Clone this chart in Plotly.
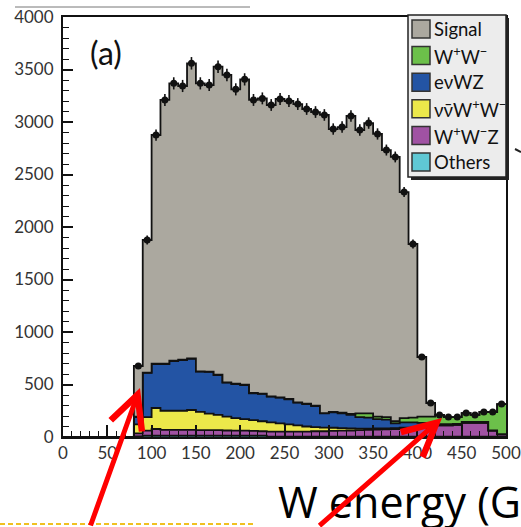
import plotly.graph_objects as go

# ---- data: 10 GeV bins from 0 to 500 (values per bin, bins 0..490 lower edges) ----
bin_edges = list(range(0, 510, 10))
zeros8 = [0] * 8  # bins 0-80 are empty

signal = zeros8 + [483, 1263, 2178, 2512, 2641, 2607, 2811, 2743, 2729, 2934,
                   2928, 2803, 2908, 2791, 2812, 2775, 2841, 2838, 2841, 2807,
                   2797, 2839, 2693, 2719, 2837, 2699, 2765, 2691, 2543, 2517,
                   2153, 1653, 567, 129, 0, 0, 0, 0, 0, 0, 0, 0]
ww = zeros8 + [3, 3, 3, 3, 3, 3, 3, 3, 3, 3,
               3, 3, 3, 3, 3, 3, 3, 3, 3, 3,
               3, 3, 5, 8, 10, 35, 40, 25, 25, 20,
               40, 45, 60, 70, 88, 68, 65, 85, 67, 95, 175, 287]
enuwz = zeros8 + [70, 420, 419, 445, 474, 483, 488, 382, 398, 380,
                  322, 325, 325, 256, 260, 244, 245, 239, 217, 214,
                  200, 135, 147, 140, 128, 110, 105, 88, 83, 45,
                  52, 50, 45, 35, 12, 12, 10, 8, 8, 8, 3, 2]
nnww = zeros8 + [85, 130, 200, 183, 183, 183, 190, 175, 157, 145,
                 133, 120, 110, 102, 95, 88, 78, 68, 58, 48,
                 40, 35, 30, 25, 20, 15, 13, 12, 10, 10,
                 8, 7, 5, 4, 0, 0, 0, 0, 0, 0, 0, 0]
wwz = zeros8 + [30, 48, 64, 55, 55, 55, 55, 53, 53, 53,
                50, 48, 48, 46, 43, 48, 48, 48, 48, 48,
                51, 51, 54, 56, 58, 61, 63, 66, 68, 71,
                76, 79, 81, 82, 106, 106, 111, 131, 131, 131, 56, 21]
others = zeros8 + [5, 12, 12, 12, 12, 12, 12, 12, 12, 12,
                   12, 12, 12, 12, 12, 4, 4, 4, 4, 4,
                   4, 4, 4, 4, 4, 4, 4, 4, 4, 4,
                   4, 4, 4, 4, 4, 4, 4, 4, 4, 4, 4, 4]

series_names = ["Others", "W<sup>+</sup>W<sup>\u2212</sup>Z", "\u03bd\u03bd\u0304W<sup>+</sup>W<sup>\u2212</sup>",
                "e\u03bdWZ", "W<sup>+</sup>W<sup>\u2212</sup>", "Signal"]
series_vals = [others, wwz, nnww, enuwz, ww, signal]
series_colors = ["#5fc8d4", "#a052a3", "#ece84a", "#2354a4", "#6cc04a", "#aba89f"]

x_ticks = [0, 50, 100, 150, 200, 250, 300, 350, 400, 450, 500]
y_ticks = [0, 500, 1000, 1500, 2000, 2500, 3000, 3500, 4000]

# ---- geometry helpers (pixel -> paper) ----
L, R, T, B = 63, 506, 17, 437
def px(x):
    return (x - L) / (R - L)
def py(y):
    return (B - y) / (B - T)

fig = go.Figure()

for name, vals, col in zip(series_names, series_vals, series_colors):
    fig.add_trace(go.Scatter(
        x=bin_edges, y=vals + [vals[-1]], stackgroup="stack", mode="lines",
        line=dict(shape="hv", color="#111111", width=1.8),
        fillcolor=col, name=name, showlegend=False, hoverinfo="skip"))

totals = [sum(v) for v in zip(*series_vals)]
centers = [e + 5 for e, t in zip(bin_edges[:-1], totals) if t > 0]
tot_y = [t for t in totals if t > 0]
fig.add_trace(go.Scatter(
    x=centers, y=tot_y, mode="markers",
    marker=dict(symbol="circle", size=7, color="#111111"),
    error_y=dict(type="sqrt", color="#111111", thickness=1.6, width=0),
    showlegend=False, hoverinfo="skip"))

fig.update_xaxes(range=[0, 500], tickvals=x_ticks, ticks="inside", ticklen=12, tickwidth=1.5,
                 tickcolor="#111", showline=True, linecolor="#111", linewidth=2, mirror=True,
                 showgrid=False, zeroline=False, automargin=False,
                 minor=dict(dtick=10, ticks="inside", ticklen=6, tickwidth=1.2, tickcolor="#111"),
                 tickfont=dict(family="Lato", size=17, color="#333"))
fig.update_yaxes(range=[0, 4000], tickvals=y_ticks, ticks="inside", ticklen=10, tickwidth=1.5,
                 tickcolor="#111", showline=True, linecolor="#111", linewidth=2, mirror=True,
                 showgrid=False, zeroline=False, ticklabelstandoff=4, automargin=False,
                 minor=dict(dtick=100, ticks="inside", ticklen=6, tickwidth=1.2, tickcolor="#111"),
                 tickfont=dict(family="Lato", size=17, color="#333"))

shapes = []
annotations = []

# manual legend box with shadow
shapes.append(dict(type="rect", xref="paper", yref="paper", x0=px(411), x1=px(509), y0=py(180), y1=py(18),
                   fillcolor="#222", line=dict(width=0), layer="above"))
shapes.append(dict(type="rect", xref="paper", yref="paper", x0=px(408), x1=px(506), y0=py(177), y1=py(15),
                   fillcolor="#ececec", line=dict(color="#222", width=1.5), layer="above"))
legend_order = [5, 4, 3, 2, 1, 0]
for i, k in enumerate(legend_order):
    yc = 29 + i * 26.6
    shapes.append(dict(type="rect", xref="paper", yref="paper", x0=px(412), x1=px(430),
                       y0=py(yc + 9), y1=py(yc - 9), fillcolor=series_colors[k],
                       line=dict(color="#333", width=1.5), layer="above"))
    annotations.append(dict(xref="paper", yref="paper", x=px(432), y=py(yc), xanchor="left",
                            yanchor="middle", text=series_names[k], showarrow=False,
                            font=dict(family="Lato", size=18.5, color="#111")))

annotations.append(dict(xref="paper", yref="paper", x=px(106), y=py(52), text="(a)", showarrow=False,
                        xanchor="center", yanchor="middle", font=dict(family="Lato", size=32, color="#111")))
annotations.append(dict(xref="paper", yref="paper", x=px(276), y=py(502), text="W energy (GeV)",
                        showarrow=False, xanchor="left", yanchor="middle",
                        font=dict(family="Open Sans", size=43, color="#000")))

# red arrows
annotations.append(dict(xref="paper", yref="paper", x=px(140), y=py(388), ax=-50, ay=147, text="",
                        showarrow=True, arrowcolor="#ff0000", arrowwidth=5, arrowhead=5, arrowsize=1.3))
annotations.append(dict(xref="paper", yref="paper", x=px(442), y=py(418), ax=-124, ay=117, text="",
                        showarrow=True, arrowcolor="#ff0000", arrowwidth=5, arrowhead=5, arrowsize=1.3))

# slide decorations
shapes.append(dict(type="line", xref="paper", yref="paper", x0=px(0), x1=px(255), y0=py(524), y1=py(524),
                   line=dict(color="#f0c020", width=2, dash="5px,3px")))
shapes.append(dict(type="line", xref="paper", yref="paper", x0=px(15), x1=px(250), y0=py(7), y1=py(7),
                   line=dict(color="#777", width=1)))
shapes.append(dict(type="line", xref="paper", yref="paper", x0=px(515), x1=px(521), y0=py(149), y1=py(152),
                   line=dict(color="#222", width=2)))

fig.update_layout(width=521, height=527, margin=dict(l=L, r=521 - R, t=T, b=527 - B),
                  paper_bgcolor="white", plot_bgcolor="white", shapes=shapes, annotations=annotations,
                  showlegend=False)

fig.write_html("out.html")
